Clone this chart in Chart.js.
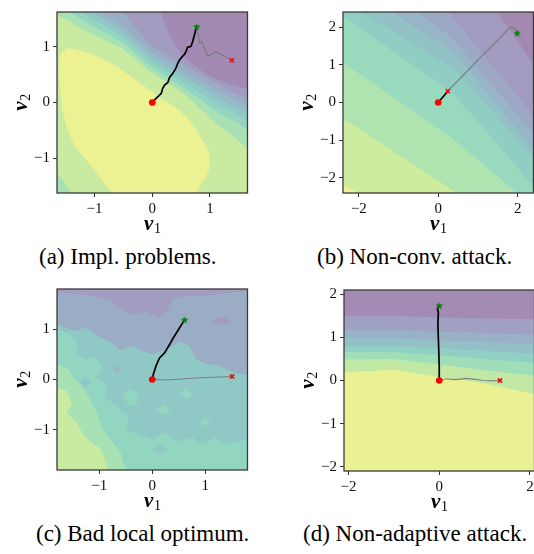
<!DOCTYPE html>
<html>
<head>
<meta charset="utf-8">
<script src="https://cdn.jsdelivr.net/npm/chart.js@4.4.1/dist/chart.umd.min.js"></script>
<style>
  html, body { margin: 0; padding: 0; background: #fff; }
  body { width: 534px; height: 554px; position: relative; overflow: hidden; }
  .panel { position: absolute; }
  .caption { position: absolute; font: 23px "Liberation Serif", "Times New Roman", serif; line-height: 23px; white-space: nowrap; color: #000; }
</style>
</head>
<body>
<div class="panel" style="left:0px;top:0px"><canvas id="pa" width="253" height="240"></canvas></div>
<div class="panel" style="left:286px;top:0px"><canvas id="pb" width="253" height="240"></canvas></div>
<div class="panel" style="left:0px;top:277px"><canvas id="pc" width="253" height="240"></canvas></div>
<div class="panel" style="left:287px;top:278px"><canvas id="pd" width="253" height="240"></canvas></div>
<div class="caption" style="left:39px;top:245px">(a) Impl. problems.</div>
<div class="caption" style="left:317px;top:245px">(b) Non-conv. attack.</div>
<div class="caption" style="left:36px;top:522px">(c) Bad local optimum.</div>
<div class="caption" style="left:303px;top:522px">(d) Non-adaptive attack.</div>
<script>
// ---------- (a) Impl. problems ----------
const A_TICKS = [-1, 0, 1];
// contour boundaries, high side is below-left
const A_BOUNDS = [
  [[0.05,2.1],[0.13,1.66],[0.21,1.44],[0.30,1.21],[0.41,1.01],[0.59,0.78],[0.82,0.59],[1.10,0.42],[1.39,0.31],[1.62,0.25],[2.1,0.15]],
  [[-0.75,2.1],[-0.51,1.66],[-0.3,1.36],[-0.05,1.06],[0.25,0.86],[0.53,0.7],[0.82,0.52],[1.1,0.34],[1.39,0.19],[1.62,0.07],[2.1,-0.12]],
  [[-1.2,2.1],[-0.92,1.66],[-0.53,1.4],[-0.05,0.94],[0.25,0.74],[0.53,0.57],[0.82,0.4],[1.1,0.22],[1.39,0.07],[1.62,-0.05],[2.1,-0.25]],
  [[-1.45,2.1],[-1.12,1.66],[-0.53,1.3],[-0.05,0.84],[0.25,0.65],[0.53,0.47],[0.82,0.3],[1.1,0.1],[1.39,-0.05],[1.62,-0.17],[2.1,-0.4]],
  [[-1.65,2.1],[-1.3,1.66],[-0.53,1.2],[-0.05,0.75],[0.25,0.56],[0.53,0.37],[0.82,0.18],[1.1,-0.02],[1.39,-0.17],[1.62,-0.3],[2.1,-0.58]],
  [[-1.85,2.1],[-1.48,1.66],[-1.11,1.42],[-0.53,1.1],[-0.05,0.66],[0.25,0.46],[0.53,0.27],[0.82,0.06],[1.1,-0.15],[1.39,-0.32],[1.62,-0.47],[2.1,-0.8]],
  [[-2.1,1.75],[-1.65,1.58],[-1.11,1.27],[-0.53,0.98],[-0.05,0.57],[0.25,0.37],[0.53,0.18],[0.82,-0.1],[1.1,-0.38],[1.39,-0.6],[1.62,-0.8],[2.1,-1.15]]
];
const A_PEAK = [[-1.46,0.98],[-1.11,0.9],[-0.8,0.76],[-0.53,0.59],[-0.3,0.42],[-0.08,0.25],[0.12,0.1],[0.33,-0.03],[0.5,-0.17],[0.61,-0.29],[0.74,-0.45],[0.84,-0.63],[0.93,-0.78],[0.99,-0.91],[1.0,-1.05],[0.99,-1.19],[0.93,-1.34],[0.84,-1.47],[0.76,-1.64],[0.72,-2.1],[-0.62,-2.1],[-0.68,-1.63],[-0.82,-1.47],[-1.11,-1.08],[-1.34,-0.8],[-1.48,-0.45],[-1.57,-0.1],[-1.6,0.3],[-1.62,0.7],[-1.58,0.9]];
const A_CORNER = [[-2.1,-1.0],[-1.65,-1.25],[-1.52,-1.45],[-1.4,-1.64],[-1.35,-2.1],[-2.1,-2.1]];
const A_BLACK = [[0,0],[0.07,0.08],[0.155,0.16],[0.18,0.25],[0.21,0.31],[0.27,0.36],[0.3,0.45],[0.36,0.53],[0.41,0.62],[0.44,0.7],[0.47,0.76],[0.53,0.84],[0.56,0.87],[0.59,0.93],[0.61,0.99],[0.67,1.01],[0.7,1.1],[0.73,1.21],[0.76,1.35]];
const A_GRAY = [[0.77,1.36],[0.82,1.07],[0.86,1.1],[0.96,0.83],[1.1,0.92],[1.38,0.76]];
const A_STAR = [0.77, 1.36];
const A_CROSS = [1.38, 0.76];

// ---------- (b) Non-conv. attack ----------
const B_TICKS_X = [-2, 0, 2];
const B_TICKS_Y = [-2, -1, 0, 1, 2];
const B_BOUNDS = [
  [[1.09,3],[1.49,2.4],[2.37,1.07],[3,0.12]],
  [[-0.2,3],[0.26,2.4],[1.37,0.97],[2.37,-0.3],[3,-1.1]],
  [[-1.29,3],[-0.53,2.4],[0.37,1.69],[1.37,0.45],[2.37,-0.8],[3,-1.59]],
  [[-2.0,3],[-1.16,2.4],[0.37,1.36],[1.37,0.08],[2.37,-1.21],[3,-2.0]],
  [[-2.86,3],[-1.94,2.4],[0.37,0.9],[1.37,-0.25],[2.37,-1.46],[3,-2.2]],
  [[-3,2.75],[-2.4,2.3],[0.37,0.24],[1.37,-0.95],[2.37,-2.2],[3,-3]],
  [[-3,1.5],[-2.41,1.07],[0.37,-0.96],[1.95,-2.37],[2.4,-2.9]],
  [[-3,0.0],[-2.41,-0.42],[0.47,-2.4],[0.8,-2.9]],
  [[-3,-1.85],[-2.41,-2.2],[-2.07,-2.37],[-1.9,-2.6]]
];
const B_BLACK = [[0,0],[0.24,0.3]];
const B_GRAY = [[0.24,0.3],[0.6,0.69],[1.0,1.13],[1.4,1.55],[1.78,1.96],[1.86,2.0],[1.93,1.95],[1.98,1.87]];
const B_STAR = [1.99, 1.83];
const B_CROSS = [0.24, 0.3];

// ---------- (c) Bad local optimum ----------
const C_TICKS = [-1, 0, 1];
const C_UPPER = [[-2.3,1.1],[-1.8,1.1],[-1.49,0.97],[-1.24,1.03],[-0.99,0.84],[-0.8,0.75],[-0.61,0.59],[-0.36,0.66],[-0.18,0.56],[0.01,0.5],[0.26,0.59],[0.51,0.75],[0.7,0.66],[0.83,0.4],[1.01,0.31],[1.26,0.28],[1.51,0.15],[1.8,0.09],[2.3,0.05]];
const C_TOP = [[-2.3,1.73],[-1.8,1.73],[-1.3,1.69],[-0.8,1.6],[-0.61,1.41],[-0.36,1.29],[-0.11,1.35],[0.14,1.22],[0.26,1.35],[0.39,1.6],[0.64,1.66],[1.01,1.66],[1.51,1.73],[1.8,1.76],[2.3,1.76]];
const C_LOWER = [[-2.3,1.0],[-1.8,1.0],[-1.55,0.9],[-1.4,0.7],[-1.45,0.5],[-1.25,0.4],[-1.05,0.45],[-0.95,0.25],[-1.05,0.05],[-0.85,-0.1],[-0.9,-0.35],[-0.7,-0.5],[-0.45,-0.75],[-0.5,-1.0],[-0.25,-1.1],[0.0,-1.2],[0.25,-1.05],[0.45,-1.25],[0.75,-1.15],[0.95,-1.3],[1.2,-1.15],[1.4,-1.3],[1.8,-1.2],[2.3,-1.25]];
const C_GREEN = [[-2.3,0.3],[-1.8,0.3],[-1.6,0.22],[-1.5,0.05],[-1.35,-0.1],[-1.2,-0.35],[-1.05,-0.65],[-0.95,-0.95],[-0.75,-1.25],[-0.6,-1.45],[-0.5,-1.8],[-0.48,-2.3]];
const C_LIGHT = [[-2.3,-0.16],[-1.8,-0.16],[-1.61,-0.23],[-1.52,-0.48],[-1.61,-0.67],[-1.42,-0.86],[-1.3,-1.11],[-1.17,-1.24],[-0.99,-1.36],[-0.86,-1.68],[-0.8,-2.3]];
const C_ISLANDS = [
  [[-0.55,-0.3],[-0.4,-0.18],[-0.25,-0.33],[-0.3,-0.5],[-0.45,-0.52]],
  [[0.5,-0.28],[0.62,-0.18],[0.78,-0.3],[0.65,-0.4]],
  [[0.08,-0.58],[0.22,-0.5],[0.35,-0.62],[0.2,-0.7]],
  [[-0.75,0.21],[-0.67,0.3],[-0.58,0.21],[-0.67,0.12]],
  [[-1.38,-0.05],[-1.27,0.06],[-1.15,-0.05],[-1.27,-0.16]],
  [[1.1,1.15],[1.3,1.25],[1.5,1.17],[1.35,1.08]],
  [[0.0,-1.4],[0.15,-1.3],[0.3,-1.4],[0.15,-1.5]],
  [[0.9,-0.85],[1.0,-0.75],[1.1,-0.85],[1.0,-0.95]]
];
const C_ISLAND_LEVELS = [5, 5, 5, 3, 4, 1, 4, 5];
const C_BLACK = [[0,0],[0.025,0.12],[0.075,0.28],[0.138,0.43],[0.232,0.53],[0.325,0.69],[0.388,0.81],[0.482,0.97],[0.607,1.18]];
const C_GRAY = [[0,0],[0.29,-0.01],[0.82,0.03],[1.51,0.06]];
const C_STAR = [0.61, 1.18];
const C_CROSS = [1.51, 0.06];

// ---------- (d) Non-adaptive attack ----------
const D_TICKS_X = [-2, 0, 2];
const D_TICKS_Y = [-2, -1, 0, 1, 2];
const D_BOUNDS = [
  [[-2.7,1.49],[-2.1,1.49],[-1,1.5],[0,1.46],[1,1.44],[2.1,1.42],[2.7,1.41]],
  [[-2.7,1.18],[-2.1,1.18],[-1,1.18],[0,1.13],[1,1.1],[2.1,1.06],[2.7,1.04]],
  [[-2.7,0.99],[-2.1,0.99],[-1,0.99],[0,0.93],[1,0.89],[2.1,0.84],[2.7,0.81]],
  [[-2.7,0.8],[-2.1,0.8],[-1,0.8],[0,0.75],[1,0.69],[2.1,0.62],[2.7,0.58]],
  [[-2.7,0.66],[-2.1,0.66],[-1,0.66],[0,0.59],[1,0.5],[2.1,0.41],[2.7,0.36]],
  [[-2.7,0.48],[-2.1,0.49],[-1,0.5],[0,0.37],[1,0.24],[2.1,0.11],[2.7,0.03]],
  [[-2.7,0.15],[-2.1,0.19],[-1,0.25],[0,0.08],[1,-0.07],[2.1,-0.32],[2.7,-0.46]]
];
const D_BLACK = [[0,0],[0,0.33],[-0.015,0.84],[-0.03,1.28],[-0.02,1.57],[-0.04,1.67],[-0.015,1.73]];
const D_GRAY = [[0,0],[0.17,0.04],[0.31,0.02],[0.46,0.03],[0.6,0.05],[0.75,0.03],[0.97,0],[1.19,-0.01],[1.34,0]];
const D_STAR = [0, 1.73];
const D_CROSS = [1.34, 0];

// ---------- helpers ----------
const FAR = 6;
const WHOLE = [[-FAR,-FAR],[FAR,-FAR],[FAR,FAR],[-FAR,FAR]];
const below = b => b.concat([[FAR,-FAR],[-FAR,-FAR],[-FAR,FAR]]);
const above = b => b.concat([[FAR,FAR],[-FAR,FAR]]);

const VIRIDIS = [[68,1,84],[72,36,117],[65,68,135],[53,95,141],[42,120,142],[33,145,140],[34,168,132],[68,191,112],[122,209,81],[189,223,38],[253,231,37]];
// contourf colour of band i out of n, alpha 0.5 on white
function band(i, n) {
  const t = (i + 0.5) / n * 10;
  const k = Math.min(9, Math.floor(t));
  const f = t - k;
  const c = VIRIDIS[k].map((v, j) => v + (VIRIDIS[k + 1][j] - v) * f);
  return 'rgb(' + c.map(v => Math.round(v * 0.5 + 127.5)).join(',') + ')';
}

const xy = pts => pts.map(p => ({ x: p[0], y: p[1] }));

function region(pts, color) {
  return { data: xy(pts), showLine: true, fill: 'shape', backgroundColor: color,
    borderColor: 'rgba(0,0,0,0)', borderWidth: 0, pointRadius: 0, pointHoverRadius: 0 };
}
function path(pts, color, width) {
  return { data: xy(pts), showLine: true, fill: false, borderColor: color, borderWidth: width,
    pointRadius: 0, pointHoverRadius: 0 };
}
function starImage() {
  const c = document.createElement('canvas');
  c.width = c.height = 10;
  const g = c.getContext('2d');
  g.translate(5, 5);
  g.beginPath();
  for (let i = 0; i < 10; i++) {
    const r = i % 2 ? 1.7 : 4;
    const a = -Math.PI / 2 + i * Math.PI / 5;
    g.lineTo(r * Math.cos(a), r * Math.sin(a));
  }
  g.closePath();
  g.fillStyle = '#008000';
  g.fill();
  return c;
}
const STAR = starImage();

function markers(star, cross) {
  return [
    { data: xy([cross]), pointStyle: 'crossRot', pointRadius: 3, borderColor: '#ff0000', borderWidth: 1.5, backgroundColor: '#ff0000' },
    { data: xy([star]), pointStyle: STAR, pointRadius: 4 },
    { data: xy([[0, 0]]), pointStyle: 'circle', pointRadius: 3.3, backgroundColor: '#ff0000', borderWidth: 0 }
  ];
}

function axis(min, max, ticks, isX) {
  return {
    type: 'linear', min, max,
    afterBuildTicks: s => { s.ticks = ticks.map(v => ({ value: v })); },
    afterFit: s => { if (isX) s.height = 47; else s.width = 57; },
    grid: { drawOnChartArea: false, drawTicks: true, tickLength: 4, color: '#333', lineWidth: 1 },
    border: { display: false },
    ticks: {
      padding: 3, color: '#111', autoSkip: false, maxRotation: 0,
      font: { family: "'Liberation Serif', serif", size: 15 },
      callback: v => v < 0 ? '\u2212' + Math.abs(v) : String(v)
    }
  };
}

function drawSub(ctx, cx, base, sub) {
  ctx.font = 'bold italic 21px "Liberation Serif"';
  const w1 = ctx.measureText('v').width;
  ctx.font = '14px "Liberation Serif"';
  const w2 = ctx.measureText(sub).width;
  const x0 = cx - (w1 + w2) / 2;
  ctx.fillStyle = '#000';
  ctx.textBaseline = 'alphabetic';
  ctx.textAlign = 'left';
  ctx.font = 'bold italic 21px "Liberation Serif"';
  ctx.fillText('v', x0, base);
  ctx.font = '14px "Liberation Serif"';
  ctx.fillText(sub, x0 + w1 + 0.5, base + 3);
}

const frameAndLabels = {
  id: 'frameAndLabels',
  afterDraw(chart) {
    const { ctx, chartArea: a } = chart;
    ctx.save();
    ctx.strokeStyle = '#3a3a3a';
    ctx.lineWidth = 1.3;
    ctx.strokeRect(a.left, a.top, a.right - a.left, a.bottom - a.top);
    drawSub(ctx, (a.left + a.right) / 2, a.bottom + 37, '1');
    ctx.translate(27, (a.top + a.bottom) / 2);
    ctx.rotate(-Math.PI / 2);
    drawSub(ctx, 0, 0, '2');
    ctx.restore();
  }
};

function makeChart(id, xr, yr, ticksX, ticksY, datasets) {
  datasets.forEach((d, i) => { d.order = datasets.length - i; });
  new Chart(document.getElementById(id), {
    type: 'scatter',
    data: { datasets },
    options: {
      responsive: false, animation: false, events: [],
      layout: { padding: { top: 2, right: 4, left: 0, bottom: 0 } },
      plugins: { legend: { display: false }, tooltip: { enabled: false } },
      scales: { x: axis(xr[0], xr[1], ticksX, true), y: axis(yr[0], yr[1], ticksY, false) }
    },
    plugins: [frameAndLabels]
  });
}

// (a)
makeChart('pa', [-1.65, 1.65], [-1.63, 1.63], A_TICKS, A_TICKS, [
  region(WHOLE, band(0, 9)),
  ...A_BOUNDS.map((b, k) => region(below(b), band(k + 1, 9))),
  region(A_PEAK, band(8, 9)),
  region(A_CORNER, band(6, 9)),
  path(A_GRAY, 'rgba(120,120,120,0.9)', 1.2),
  path(A_BLACK, '#000', 1.7),
  ...markers(A_STAR, A_CROSS)
]);

// (b)
makeChart('pb', [-2.4, 2.4], [-2.4, 2.4], B_TICKS_X, B_TICKS_Y, [
  region(WHOLE, band(0, 10)),
  ...B_BOUNDS.map((b, k) => region(below(b), band(k + 1, 10))),
  path(B_GRAY, 'rgba(120,120,120,0.9)', 1.2),
  path(B_BLACK, '#000', 1.7),
  ...markers(B_STAR, B_CROSS)
]);

// (c)
makeChart('pc', [-1.8, 1.8], [-1.8, 1.8], C_TICKS, C_TICKS, [
  region(WHOLE, band(4, 9)),
  region(below(C_LOWER), band(5, 9)),
  region(below(C_GREEN), band(6, 9)),
  region(below(C_LIGHT), band(7, 9)),
  region(above(C_UPPER), band(2, 9)),
  region(above(C_TOP), band(1, 9)),
  ...C_ISLANDS.map((p, k) => region(p, band(C_ISLAND_LEVELS[k], 9))),
  path(C_GRAY, 'rgba(120,120,120,0.9)', 1.2),
  path(C_BLACK, '#000', 1.7),
  ...markers(C_STAR, C_CROSS)
]);

// (d)
makeChart('pd', [-2.1, 2.1], [-2.1, 2.1], D_TICKS_X, D_TICKS_Y, [
  region(WHOLE, band(0, 8)),
  ...D_BOUNDS.map((b, k) => region(below(b), band(k + 1, 8))),
  path(D_GRAY, 'rgba(120,120,120,0.9)', 1.2),
  path(D_BLACK, '#000', 1.7),
  ...markers(D_STAR, D_CROSS)
]);
</script>
</body>
</html>
